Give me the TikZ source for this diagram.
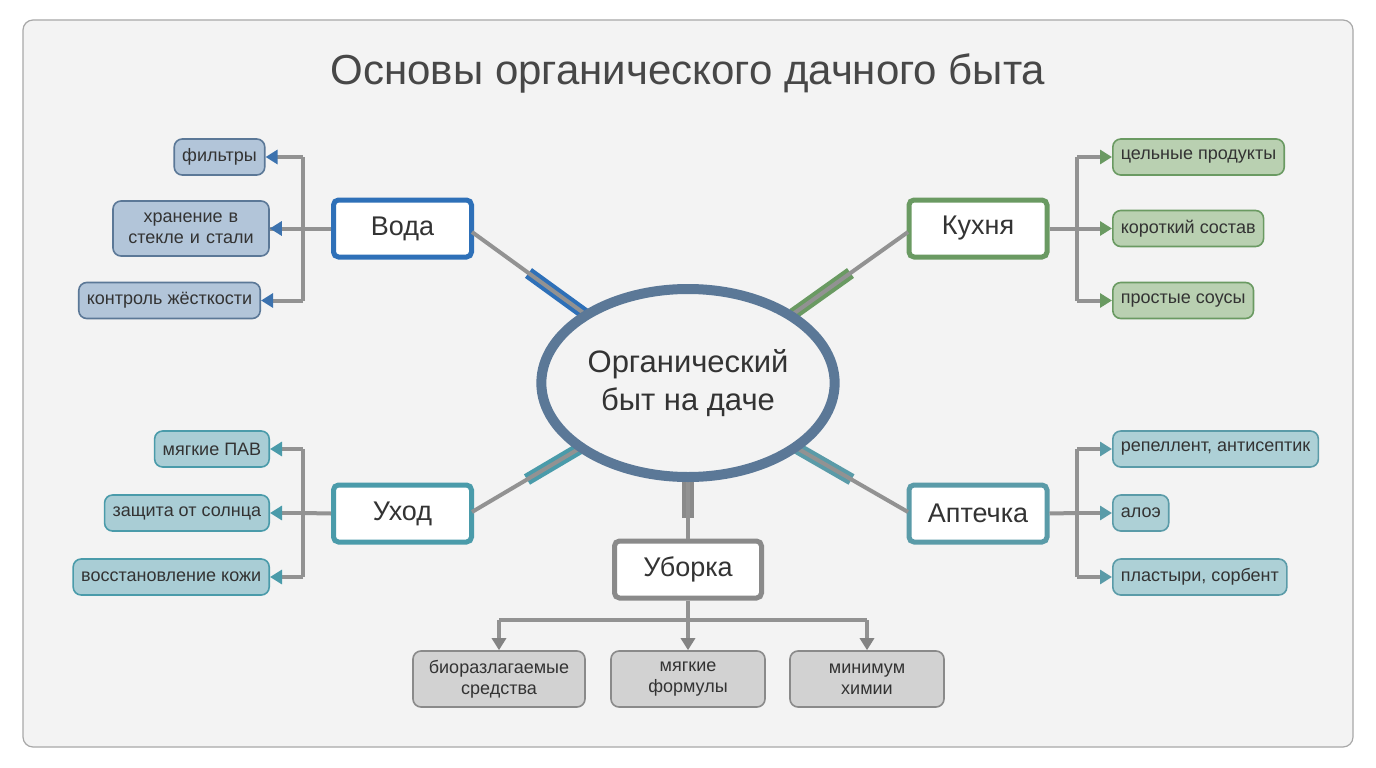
\documentclass[tikz,border=0pt]{standalone}
\usepackage{fontspec}
\setmainfont{Liberation Sans}
\usetikzlibrary{arrows.meta,shapes.geometric,calc}
\definecolor{bg}{HTML}{F3F3F3}
\definecolor{cen}{HTML}{5B7897}
\definecolor{cw}{HTML}{2E70B8}
\definecolor{ck}{HTML}{6A9A62}
\definecolor{cu}{HTML}{4A9BAA}
\definecolor{ca}{HTML}{5A9BA8}
\definecolor{cg}{HTML}{8A8A8A}
\definecolor{ln}{HTML}{929292}
\definecolor{fw}{HTML}{B2C5D9}
\definecolor{fk}{HTML}{B9D0B1}
\definecolor{fu}{HTML}{A9CDD5}
\definecolor{fa}{HTML}{ADD0D6}
\definecolor{fg}{HTML}{D2D2D2}
\definecolor{tx}{HTML}{333333}
\begin{document}
\begin{tikzpicture}[x=1pt,y=-1pt,
 br/.style={draw=#1,line width=5pt,rounded corners=5pt,fill=white,minimum width=138pt,minimum height=57pt,font=\fontsize{27}{30}\selectfont,text=tx},
 lf/.style={draw=#1,line width=1.6pt,rounded corners=8pt,font=\fontsize{18}{21}\selectfont,text=tx,inner xsep=8pt,align=center},
 ln/.style={draw=ln,line width=4pt},
 ar/.style={ln,-{Triangle[length=12pt,width=14pt,fill=#1,color=#1]}},
 band/.style={draw=#1,line width=12pt},
 cen/.style={ellipse,draw=cen,line width=10pt,minimum width=290pt,minimum height=188pt,align=center,font=\fontsize{31}{38}\selectfont,text=tx}]
\path[fill=white] (0,0) rectangle (1376,768);
\draw[fill=bg,draw=ln!80,line width=1.2pt,rounded corners=10pt] (23,20) rectangle (1353,747);
\node[font=\fontsize{42}{46}\selectfont,text=tx!90] (title) at (688,73) {Основы органического дачного быта};
% branches
\node[br=cw] (w) at (402.5,228.5) {Вода};
\node[br=ck] (k) at (978,228.5) {Кухня};
\node[br=cu] (u) at (402.5,513.5) {Уход};
\node[br=ca] (a) at (978,513.5) {Аптечка};
\node[br=cg,minimum width=147pt] (b) at (688,569.5) {Уборка};
% connector ends on the ellipse
\coordinate (we) at (585,314); \coordinate (ke) at (793,314);
\coordinate (ue) at (582,447); \coordinate (ae) at (795,447); \coordinate (be) at (688,476);
\coordinate (ws) at (472,232); \coordinate (ks) at (908,232);
\coordinate (us) at (472,512); \coordinate (as) at (908,512);
\draw[band=cw] ($(ws)!0.5!(we)$) -- (we);
\draw[band=ck] ($(ks)!0.5!(ke)$) -- (ke);
\draw[band=cu] ($(us)!0.5!(ue)$) -- (ue);
\draw[band=ca] ($(as)!0.5!(ae)$) -- (ae);
\draw[band=cg] (688,518) -- (be);
\draw[ln] (ws) -- (we);
\draw[ln] (ks) -- (ke);
\draw[ln] (us) -- (ue);
\draw[ln] (as) -- (ae);
\draw[ln] (b.north) -- (be);
\node[cen,fill=bg] (c) at (688,383) {Органический\\быт на даче};
% Вода leaves
\node[lf=cen,fill=fw,minimum height=36pt] (w1) at (219.5,157) {фильтры};
\node[lf=cen,fill=fw,minimum height=55pt,text width=140pt] (w2) at (191,228.5) {хранение в\\стекле и стали};
\node[lf=cen,fill=fw,minimum height=36pt] (w3) at (169.5,300.5) {контроль жёсткости};
\coordinate (wj) at (303,228.5);
\draw[ln] (w.west) -- (w2.east);
\draw[ln] (303,157) -- (303,300.5);
\draw[ar=cw!70!cen] (303,157) -- (w1.east);
\draw[ar=cw!70!cen] (wj) -- (w2.east);
\draw[ar=cw!70!cen] (303,300.5) -- (w3.east);
% Кухня leaves
\node[lf=ck,fill=fk,minimum height=36pt,anchor=west] (k1) at (1112,157) {цельные продукты};
\node[lf=ck,fill=fk,minimum height=36pt,anchor=west] (k2) at (1112,228.5) {короткий состав};
\node[lf=ck,fill=fk,minimum height=36pt,anchor=west] (k3) at (1112,300.5) {простые соусы};
\coordinate (kj) at (1077,228.5);
\draw[ln] (k.east) -- (kj); \draw[ln] (1077,157) -- (1077,300.5);
\draw[ar=ck] (1077,157) -- (k1.west);
\draw[ar=ck] (kj) -- (k2.west);
\draw[ar=ck] (1077,300.5) -- (k3.west);
% Уход leaves
\node[lf=cu,fill=fu,minimum height=36pt,anchor=east] (u1) at (270,449) {мягкие ПАВ};
\node[lf=cu,fill=fu,minimum height=36pt,anchor=east] (u2) at (270,513) {защита от солнца};
\node[lf=cu,fill=fu,minimum height=36pt,anchor=east] (u3) at (270,577) {восстановление кожи};
\coordinate (uj) at (303,513);
\draw[ln] (u.west) -- (uj); \draw[ln] (303,449) -- (303,577);
\draw[ar=cu] (303,449) -- (u1.east);
\draw[ar=cu] (uj) -- (u2.east);
\draw[ar=cu] (303,577) -- (u3.east);
% Аптечка leaves
\node[lf=ca,fill=fa,minimum height=36pt,anchor=west] (a1) at (1112,449) {репеллент, антисептик};
\node[lf=ca,fill=fa,minimum height=36pt,anchor=west] (a2) at (1112,513) {алоэ};
\node[lf=ca,fill=fa,minimum height=36pt,anchor=west] (a3) at (1112,577) {пластыри, сорбент};
\coordinate (aj) at (1077,513);
\draw[ln] (a.east) -- (aj); \draw[ln] (1077,449) -- (1077,577);
\draw[ar=ca] (1077,449) -- (a1.west);
\draw[ar=ca] (aj) -- (a2.west);
\draw[ar=ca] (1077,577) -- (a3.west);
% Уборка leaves
\node[lf=cg,fill=fg,minimum width=172pt,minimum height=56pt] (b1) at (499,679) {биоразлагаемые\\средства};
\node[lf=cg,fill=fg,minimum width=154pt,minimum height=56pt] (b2) at (688,679) {мягкие\\формулы};
\node[lf=cg,fill=fg,minimum width=154pt,minimum height=56pt] (b3) at (867,679) {минимум\\химии};
\coordinate (bj) at (688,620);
\draw[ln] (b.south) -- (bj); \draw[ln] (499,620) -- (867,620);
\draw[ar=ln!90!black] (499,620) -- (b1.north);
\draw[ar=ln!90!black] (bj) -- (b2.north);
\draw[ar=ln!90!black] (867,620) -- (b3.north);
\end{tikzpicture}
\end{document}
